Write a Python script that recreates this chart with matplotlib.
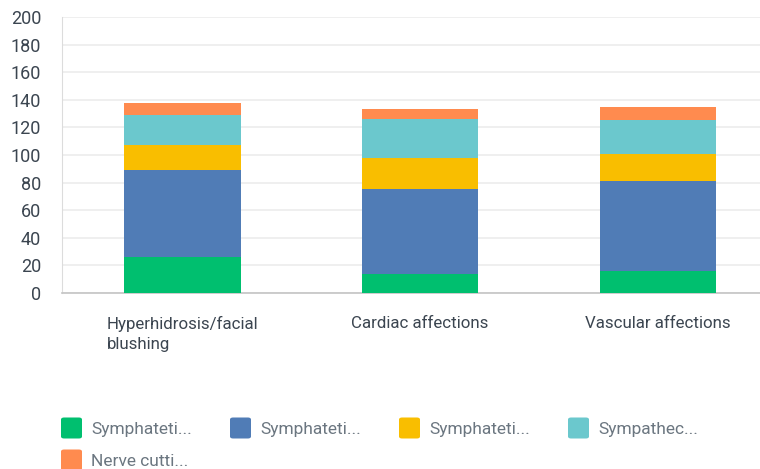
import matplotlib.pyplot as plt
import numpy as np
from matplotlib.patches import FancyBboxPatch

plt.rcParams['font.family'] = ['Roboto', 'DejaVu Sans']

categories = ['Hyperhidrosis/facial\nblushing', 'Cardiac affections', 'Vascular affections']
series_labels = ['Symphateti...', 'Symphateti...', 'Symphateti...', 'Sympathec...', 'Nerve cutti...']
series_values = [
    [26, 14, 16],
    [63, 61, 65],
    [18, 23, 20],
    [22, 28, 24],
    [9, 7, 10],
]
colors = ['#00bf6f', '#507cb6', '#f9be00', '#6bc8cd', '#ff8b4f']

fig = plt.figure(figsize=(7.6, 4.69), dpi=100)
ax = fig.add_axes([62 / 760, 1 - 293 / 469, 698 / 760, 276 / 469])

x = np.arange(len(categories))
bottom = np.zeros(len(categories))
for vals, col in zip(series_values, colors):
    ax.bar(x, vals, bottom=bottom, width=0.49, color=col, zorder=3)
    bottom += np.array(vals)

ax.set_ylim(0, 200)
ax.set_xlim(-0.506, 2.43)
ax.set_yticks(np.arange(0, 201, 20))
ax.set_xticks(x)
ax.set_xticklabels(categories, multialignment='left', linespacing=1.45)
ax.yaxis.grid(True, color='#ececec', linewidth=1.2, zorder=0)
ax.tick_params(axis='y', length=0, pad=15, labelsize=13, labelcolor='#3b4550')
ax.tick_params(axis='x', length=0, pad=16.5, labelsize=12.2, labelcolor='#3b4550')
for lbl in ax.get_xticklabels():
    lbl.set_verticalalignment('top')
for s in ['top', 'right']:
    ax.spines[s].set_visible(False)
ax.spines['left'].set_color('#dcdcdc')
ax.spines['bottom'].set_color('#c4c4c4')
ax.spines['bottom'].set_linewidth(1.2)

# legend drawn by hand: rounded swatches, row-major order
W, H = 760.0, 469.0
for i, (lab, col) in enumerate(zip(series_labels, colors)):
    row, c = divmod(i, 4)
    x0 = 61 + c * 169
    yc = 428 + row * 32
    fig.add_artist(FancyBboxPatch((x0 / W, 1 - (yc + 10.5) / H), 21 / W, 21 / H,
                                  boxstyle='round,pad=0,rounding_size=0.004',
                                  transform=fig.transFigure, facecolor=col,
                                  edgecolor='none'))
    fig.text((x0 + 30) / W, 1 - (yc + 1) / H, lab, fontsize=12.5, color='#6b7680',
             va='center', ha='left')

fig.savefig('out.png', dpi=100)
